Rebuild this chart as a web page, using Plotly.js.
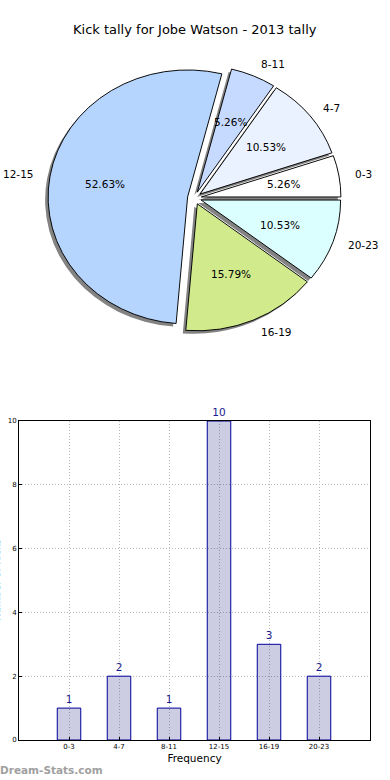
<!DOCTYPE html>
<html>
<head>
<meta charset="utf-8">
<script src="https://cdn.plot.ly/plotly-3.0.1.min.js"></script>
<style>html,body{margin:0;padding:0;background:#fff;}#chart{width:390px;height:780px;}</style>
</head>
<body>
<div id="chart"></div>
<script>
// ---- data ----
var categories = ["0-3", "4-7", "8-11", "12-15", "16-19", "20-23"];
var counts = [1, 2, 1, 10, 3, 2];
var sliceColors = ["#ffffff", "#ebf2ff", "#c6d9ff", "#b5d5ff", "#d1eb8c", "#dbffff"];
var chartTitle = "Kick tally for Jobe Watson - 2013 tally";
var yTicks = [0, 2, 4, 6, 8, 10];

// ---- geometry (pixels) ----
var W = 390, H = 780;
var cx = 194.5, cy = 198, rx = 139.5, ry = 127, pull = 0.05;
var half = rx * (1 + pull);
var squash = ry / rx;
function dom(cxp, cyp) {
  return {x: [(cxp - half) / W, (cxp + half) / W], y: [1 - (cyp + half) / H, 1 - (cyp - half) / H]};
}
var total = counts.reduce(function(a, b){return a + b;}, 0);
var pulls = counts.map(function(){return pull;});
// Plotly (counterclockwise) ends the first slice at the rotation angle; make it start at 3 o'clock instead
var rot = 90 - 360 * counts[0] / total;

var shadow = {
  type: 'pie', values: counts, labels: categories, sort: false,
  direction: 'counterclockwise', rotation: rot, pull: pulls,
  marker: {colors: counts.map(function(){return 'rgba(90,90,90,0.75)';}), line: {width: 0}},
  textinfo: 'none', hoverinfo: 'skip', domain: dom(cx - 3, cy + 3 / squash), showlegend: false
};
var pie = {
  type: 'pie', values: counts, labels: categories, sort: false,
  direction: 'counterclockwise', rotation: rot, pull: pulls,
  marker: {colors: sliceColors, line: {color: '#000000', width: 1}},
  textinfo: 'none', domain: dom(cx, cy), showlegend: false
};

var bars = {
  type: 'bar', x: categories, y: counts, width: 0.47,
  marker: {color: 'rgba(0,0,110,0.2)', line: {color: '#000099', width: 1}},
  text: counts.map(String), textposition: 'outside', cliponaxis: false,
  textfont: {family: 'DejaVu Sans', size: 10.5, color: '#1a1a8c'},
  xaxis: 'x', yaxis: 'y', showlegend: false
};

var annotations = [];
// pie labels & percentages computed from data (matplotlib convention: start at 0 deg, CCW)
var cum = 0;
counts.forEach(function(v, i) {
  var mid = (cum + v / 2) / total * 2 * Math.PI;
  cum += v;
  var c = Math.cos(mid), s = Math.sin(mid);
  var ex = cx + pull * rx * c, ey = cy - pull * ry * s;
  var lx = ex + 1.1 * rx * c, ly = ey - 1.1 * ry * s;
  annotations.push({xref: 'paper', yref: 'paper', x: lx / W, y: 1 - ly / H,
    text: categories[i], showarrow: false, xanchor: c < 0 ? 'right' : 'left', yanchor: 'middle',
    font: {family: 'DejaVu Sans', size: 10.5, color: '#000'}});
  var px = ex + 0.6 * rx * c, py = ey - 0.6 * ry * s;
  annotations.push({xref: 'paper', yref: 'paper', x: px / W, y: 1 - py / H,
    text: (v / total * 100).toFixed(2) + '%', showarrow: false, xanchor: 'center', yanchor: 'middle',
    font: {family: 'DejaVu Sans', size: 10.5, color: '#000'}});
});
annotations.push({xref: 'paper', yref: 'paper', x: 195 / W, y: 1 - 30 / H, text: chartTitle,
  showarrow: false, xanchor: 'center', yanchor: 'middle', font: {family: 'DejaVu Sans', size: 13, color: '#000'}});
annotations.push({xref: 'paper', yref: 'paper', x: -4 / W, y: 1 - 580 / H, text: 'Number of Kicks',
  textangle: -90, showarrow: false, xanchor: 'center', yanchor: 'middle', font: {family: 'DejaVu Sans', size: 10, color: '#000'}});
annotations.push({xref: 'paper', yref: 'paper', x: -2 / W, y: 1 - 770 / H, text: 'Dream-Stats.com',
  showarrow: false, xanchor: 'left', yanchor: 'middle', font: {family: 'DejaVu Sans', size: 10.5, color: '#a0a0a0', weight: 'bold'}});

var layout = {
  width: W, height: H, margin: {l: 0, r: 0, t: 0, b: 0, pad: 0},
  paper_bgcolor: '#ffffff', plot_bgcolor: '#ffffff', showlegend: false,
  xaxis: {domain: [19 / W, 370 / W], range: [-1, 6.02], type: 'category',
    showline: true, mirror: true, linecolor: '#000', linewidth: 1,
    ticks: 'inside', ticklen: 3, tickcolor: '#000',
    showgrid: true, gridcolor: '#b8b8b8', griddash: '1px,2px', gridwidth: 1, zeroline: false,
    tickfont: {family: 'DejaVu Sans', size: 7, color: '#000'},
    title: {text: 'Frequency', font: {family: 'DejaVu Sans', size: 10.5, color: '#000'}, standoff: 4}},
  yaxis: {domain: [40 / H, 359 / H], range: [0, 10], tickvals: yTicks,
    showline: true, mirror: true, linecolor: '#000', linewidth: 1,
    ticks: 'inside', ticklen: 3, tickcolor: '#000',
    showgrid: true, gridcolor: '#b8b8b8', griddash: '1px,2px', gridwidth: 1, zeroline: false,
    tickfont: {family: 'DejaVu Sans', size: 7, color: '#000'}},
  annotations: annotations
};

Plotly.newPlot('chart', [shadow, pie, bars], layout, {displayModeBar: false, staticPlot: true}).then(function(gd) {
  // matplotlib drew this pie without an equal aspect ratio: squash vertically about its centre
  var g = gd.querySelector('.pielayer');
  if (g) g.setAttribute('transform', 'translate(0,' + (cy * (1 - squash)) + ') scale(1,' + squash + ')');
});
</script>
</body>
</html>
